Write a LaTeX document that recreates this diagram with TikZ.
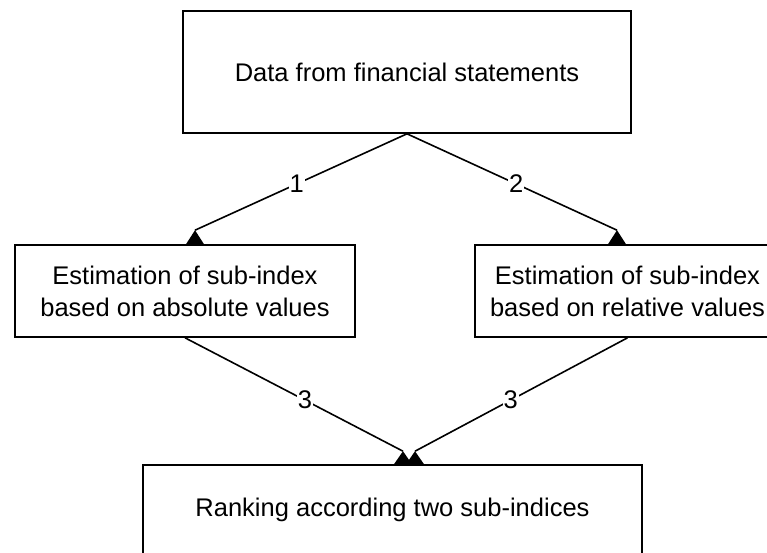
\documentclass[tikz,border=0pt]{standalone}
\usepackage{fontspec}
\setmainfont{Liberation Sans}
\usetikzlibrary{calc}

\begin{document}
\begin{tikzpicture}[x = 1pt, y = -1pt, line width = 1.6pt,
  box/.style = {draw, fill = white, inner sep = 0pt, align = center, font = \fontsize{25.5}{32}\selectfont},
  num/.style = {fill = white, inner sep = 1pt, font = \fontsize{25.5}{31}\selectfont}]
\clip (0,0) rectangle (767,552);
\node[box, minimum width = 448pt, minimum height = 122pt] (data) at (407,72) {Data from financial statements};
\node[box, minimum width = 340pt, minimum height = 92pt] (absv) at (185,291) {Estimation of sub-index\\based on absolute values};
\node[box, minimum width = 305pt, minimum height = 92pt] (relv) at (627.5,291) {Estimation of sub-index\\based on relative values};
\node[box, minimum width = 499pt, minimum height = 90pt] (rank) at (392.5,510) {Ranking according two sub-indices};
% line ends, the heads sit on the box tops
\coordinate (a1) at ($(absv.north)+(10,-14)$);
\coordinate (a2) at ($(relv.north)+(-10.5,-14)$);
\coordinate (b1) at ($(rank.north)+(10.5,-13)$);
\coordinate (b2) at ($(rank.north)+(22.5,-13)$);
\draw (data.south) -- (a1) node[num, pos = .52]{1};
\draw (data.south) -- (a2) node[num, pos = .52]{2};
\draw (absv.south) -- (b1) node[num, pos = .55]{3};
\draw (relv.south) -- (b2) node[num, pos = .55]{3};
\foreach \t in {a1, a2}
  \fill (\t) -- ++(-9,14) -- ++(18,0) -- cycle;
\foreach \t in {b1, b2}
  \fill (\t) -- ++(-9,13) -- ++(18,0) -- cycle;
\end{tikzpicture}
\end{document}
